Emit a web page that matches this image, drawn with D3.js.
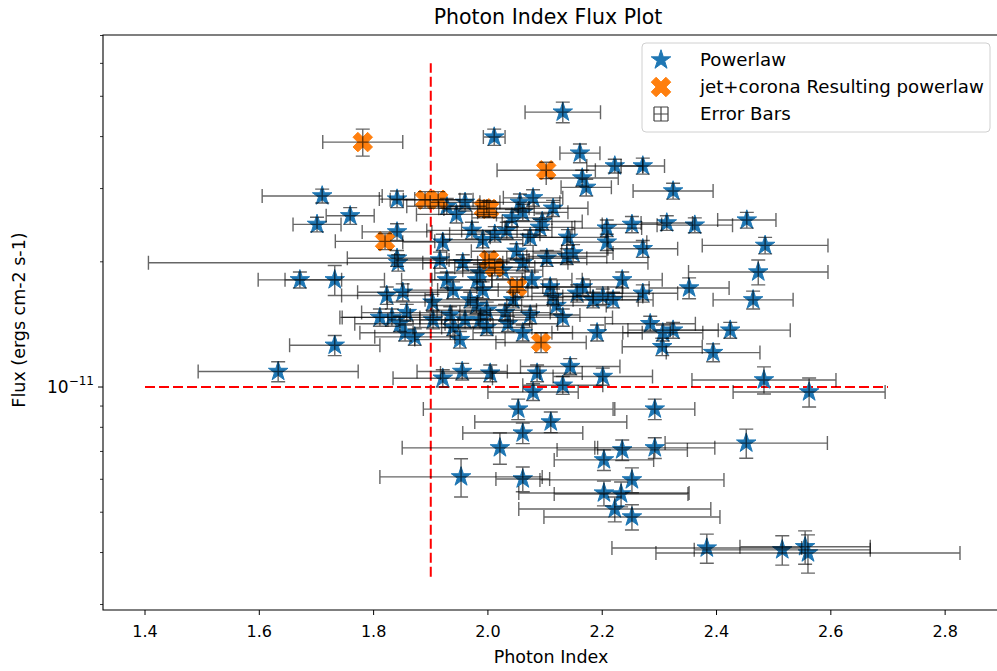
<!DOCTYPE html>
<html><head><meta charset="utf-8">
<script src="https://cdn.jsdelivr.net/npm/d3@7"></script>
<style>
body{margin:0;background:#fff;}
text{font-family:"DejaVu Sans",sans-serif;fill:#000;}
</style>
</head><body>
<svg id="c" width="997" height="671"></svg>
<script>
// Flux values are in units of 1e-11 erg cm^-2 s^-1
const FLUX_UNIT = 1e-11;

// Powerlaw fits (blue stars)
const plIndex = [2.131,2.011,2.161,2.222,2.271,2.165,2.172,2.324,1.710,1.841,1.759,1.701,2.453,2.362,2.313,2.485,2.473,2.271,2.208,1.671,1.732,2.352,2.464,1.841,1.841,1.843,
1.928,1.960,2.056,2.079,2.114,2.061,2.042,2.252,1.921,1.972,1.991,2.033,2.074,2.091,2.140,2.138,2.208,1.916,1.956,1.986,2.026,2.061,2.077,2.103,2.109,2.156,2.166,2.201,2.235,2.271,
1.939,1.969,1.998,2.030,2.074,2.131,2.284,2.306,2.324,1.951,1.998,2.061,2.191,1.939,1.928,1.981,1.823,1.851,1.832,1.858,1.855,1.872,1.960,1.986,2.044,2.114,2.184,2.219,2.149,2.305,2.394,2.424,
1.811,1.846,1.732,1.904,1.934,1.991,
1.633,1.921,1.955,2.004,2.086,2.144,2.201,2.131,2.079,2.483,2.562,2.053,2.292,2.110,2.061,2.021,2.203,2.235,2.292,2.452,1.953,2.061,2.252,2.203,2.233,2.222,2.252,2.383,2.515,2.555,2.560,
2.095,2.012,1.945,2.050,2.120,1.980,2.035,1.903];
const plFlux = [4.58,3.99,3.65,3.40,3.40,3.18,3.02,2.96,2.88,2.83,2.58,2.46,2.52,2.45,2.48,2.19,1.89,2.15,2.41,1.81,1.81,1.73,1.62,2.36,2.04,1.99,
2.72,2.78,2.78,2.85,2.69,2.63,2.55,2.46,2.23,2.38,2.26,2.38,2.29,2.42,2.29,2.06,2.23,2.02,1.99,1.88,1.91,1.99,1.81,2.04,1.74,1.68,1.74,1.65,1.81,1.68,
1.71,1.62,1.53,1.51,1.49,1.47,1.42,1.35,1.37,1.30,1.39,1.35,1.35,1.39,1.81,1.81,1.66,1.69,1.47,1.51,1.35,1.32,1.45,1.45,1.62,1.65,1.62,1.62,2.10,1.25,1.21,1.37,
1.47,1.42,1.26,1.45,1.49,1.71,
1.09,1.05,1.09,1.08,1.08,1.12,1.06,1.01,0.973,1.04,0.973,0.885,0.885,0.824,0.775,0.714,0.668,0.706,0.714,0.733,0.608,0.601,0.598,0.556,0.553,0.509,0.487,0.410,0.406,0.413,0.399,
2.50,2.33,2.60,2.12,1.57,1.57,1.42,1.60];
const plIndexErr = [0.066,0.019,0.035,0.049,0.038,0.063,0.044,0.070,0.105,0.031,0.042,0.042,0.051,0.066,0.045,0.110,0.122,0.061,0.061,0.073,0.087,0.070,0.070,0.061,0.087,0.437,
0.070,0.061,0.070,0.052,0.061,0.079,0.070,0.052,0.070,0.079,0.070,0.079,0.070,0.061,0.070,0.070,0.070,0.079,0.070,0.079,0.070,0.079,0.070,0.070,0.070,0.079,0.070,0.070,0.070,0.061,
0.079,0.079,0.087,0.079,0.087,0.087,0.079,0.070,0.079,0.079,0.079,0.087,0.079,0.070,0.079,0.079,0.079,0.079,0.087,0.079,0.079,0.070,0.079,0.087,0.079,0.070,0.079,0.070,0.070,0.070,0.082,0.105,
0.070,0.079,0.079,0.079,0.070,0.079,
0.140,0.087,0.079,0.087,0.079,0.087,0.087,0.070,0.079,0.126,0.133,0.166,0.070,0.133,0.105,0.171,0.087,0.114,0.105,0.142,0.142,0.047,0.161,0.149,0.117,0.168,0.154,0.166,0.154,0.114,0.266,
0.070,0.079,0.070,0.079,0.087,0.079,0.087,0.079];
const plFluxErr = [0.26,0.18,0.19,0.13,0.15,0.14,0.14,0.13,0.11,0.13,0.12,0.10,0.11,0.10,0.10,0.10,0.13,0.10,0.11,0.08,0.15,0.10,0.08,0.11,0.09,0.09,
0.12,0.13,0.13,0.13,0.12,0.12,0.12,0.11,0.10,0.11,0.10,0.11,0.10,0.11,0.10,0.09,0.10,0.09,0.09,0.09,0.09,0.09,0.08,0.09,0.08,0.08,0.08,0.07,0.08,0.08,
0.08,0.07,0.07,0.07,0.07,0.07,0.06,0.06,0.06,0.06,0.06,0.06,0.06,0.06,0.08,0.08,0.08,0.08,0.07,0.07,0.06,0.06,0.07,0.07,0.07,0.07,0.07,0.07,0.10,0.06,0.06,0.06,
0.07,0.06,0.07,0.07,0.07,0.08,
0.06,0.05,0.05,0.05,0.05,0.05,0.05,0.05,0.045,0.078,0.078,0.05,0.05,0.047,0.044,0.062,0.038,0.04,0.041,0.059,0.064,0.041,0.041,0.038,0.038,0.035,0.034,0.033,0.033,0.038,0.042,
0.11,0.10,0.12,0.09,0.07,0.07,0.06,0.07];

// jet+corona resulting powerlaw (orange X)
const jcIndex = [1.781,1.890,1.913,1.993,2.002,2.102,1.820,2.002,2.012,2.051,2.093];
const jcFlux = [3.88,2.82,2.82,2.69,2.68,3.32,2.24,2.02,1.94,1.74,1.28];
const jcIndexErr = [0.070,0.061,0.061,0.079,0.079,0.086,0.087,0.070,0.070,0.070,0.079];
const jcFluxErr = [0.29,0.13,0.13,0.12,0.12,0.15,0.10,0.09,0.09,0.10,0.07];

// reference lines
const refIndex = 1.9;
const refIndexFluxRange = [3.5e-12, 6e-11];
const refFlux = 1e-11;
const refFluxIndexRange = [1.4, 2.7];

const xTicks = [1.4,1.6,1.8,2.0,2.2,2.4,2.6,2.8];
const xDomain = [1.3265, 2.8995];
const yDomain = [2.91e-12, 7.02e-11];

const legendLabels = ["Powerlaw", "jet+corona Resulting powerlaw", "Error Bars"];
const title = "Photon Index Flux Plot";
const xLabel = "Photon Index";
const yLabel = "Flux (ergs cm-2 s-1)";

const BLUE = "#1f77b4", ORANGE = "#ff7f0e";

const svg = d3.select("#c");
const L = 103, R = 1002, T = 35, B = 610;
const x = d3.scaleLinear().domain(xDomain).range([L, R]);
const y = d3.scaleLog().domain(yDomain).range([B, T]);

svg.append("defs").append("clipPath").attr("id","clip")
  .append("rect").attr("x",L).attr("y",T).attr("width",R-L).attr("height",B-T);

const plot = svg.append("g").attr("clip-path","url(#clip)");

const pl = plIndex.map((v,i)=>({x:v, y:plFlux[i]*FLUX_UNIT, ex:plIndexErr[i], ey:plFluxErr[i]*FLUX_UNIT}));
const jc = jcIndex.map((v,i)=>({x:v, y:jcFlux[i]*FLUX_UNIT, ex:jcIndexErr[i], ey:jcFluxErr[i]*FLUX_UNIT}));

const star = d3.symbol().type(d3.symbolStar).size(118);
// filled X marker (matplotlib 'X')
const xPts = [[0.25,0],[0.5,0.25],[0.25,0.5],[0,0.25],[-0.25,0.5],[-0.5,0.25],[-0.25,0],[-0.5,-0.25],[-0.25,-0.5],[0,-0.25],[0.25,-0.5],[0.5,-0.25]];
function xPath(s){ return "M" + xPts.map(p=>[p[0]*s,p[1]*s].join(",")).join("L") + "Z"; }

// red reference lines
plot.append("line").attr("x1",x(refIndex)).attr("x2",x(refIndex))
  .attr("y1",y(refIndexFluxRange[0])).attr("y2",y(refIndexFluxRange[1]))
  .attr("stroke","#ff0000").attr("stroke-width",2).attr("stroke-dasharray","10,4");
plot.append("line").attr("x1",x(refFluxIndexRange[0])).attr("x2",x(refFluxIndexRange[1]))
  .attr("y1",y(refFlux)).attr("y2",y(refFlux))
  .attr("stroke","#ff0000").attr("stroke-width",2).attr("stroke-dasharray","10,4");

plot.append("g").selectAll("path").data(pl).join("path")
  .attr("d", star).attr("transform", d=>`translate(${x(d.x)},${y(d.y)})`)
  .attr("fill",BLUE).attr("stroke",BLUE).attr("stroke-width",1);

plot.append("g").selectAll("path").data(jc).join("path")
  .attr("d", xPath(19.5)).attr("transform", d=>`translate(${x(d.x)},${y(d.y)})`)
  .attr("fill",ORANGE).attr("stroke",ORANGE).attr("stroke-width",1).attr("stroke-linejoin","round");

// error bars
const cap = 7;
const eg = plot.append("g").attr("stroke","#000").attr("stroke-opacity",0.6).attr("stroke-width",1.4).attr("fill","none");
[...pl, ...jc].forEach(d=>{
  const cx = x(d.x), cy = y(d.y);
  const x0 = x(d.x-d.ex), x1 = x(d.x+d.ex);
  const y0 = y(d.y-d.ey), y1 = y(d.y+d.ey);
  eg.append("path").attr("d",
    `M${x0},${cy}H${x1}M${x0},${cy-cap}V${cy+cap}M${x1},${cy-cap}V${cy+cap}` +
    `M${cx},${y0}V${y1}M${cx-cap},${y0}H${cx+cap}M${cx-cap},${y1}H${cx+cap}`);
});

// axes frame
const ax = svg.append("g").attr("stroke","#000").attr("stroke-width",1.1).attr("fill","none");
ax.append("path").attr("d",`M${R},${T}H${L}V${B}H${R}`);

// x axis ticks
const xg = svg.append("g");
xTicks.forEach(t=>{
  xg.append("line").attr("x1",x(t)).attr("x2",x(t)).attr("y1",B).attr("y2",B+5).attr("stroke","#000").attr("stroke-width",1);
  xg.append("text").attr("x",x(t)).attr("y",B+27).attr("text-anchor","middle").attr("font-size",16).text(t.toFixed(1));
});

// y axis ticks (log)
const yg = svg.append("g");
y.ticks().forEach(t=>{
  const lg = Math.log10(t);
  const major = Math.abs(lg - Math.round(lg)) < 1e-9;
  yg.append("line").attr("x1",L).attr("x2",L-(major?5:3)).attr("y1",y(t)).attr("y2",y(t))
    .attr("stroke","#000").attr("stroke-width",major?1:0.8);
  if (major) {
    const tx = yg.append("text").attr("x",L-9).attr("y",y(t)+6).attr("text-anchor","end").attr("font-size",17);
    tx.append("tspan").text("10");
    tx.append("tspan").attr("dy",-8).attr("font-size",12).text("\u2212" + Math.abs(Math.round(lg)));
  }
});

// labels
svg.append("text").attr("x",548).attr("y",24).attr("text-anchor","middle").attr("font-size",20.5).text(title);
svg.append("text").attr("x",551).attr("y",663).attr("text-anchor","middle").attr("font-size",17.5).text(xLabel);
svg.append("text").attr("transform","translate(25,320) rotate(-90)").attr("text-anchor","middle").attr("font-size",17.5).text(yLabel);

// legend
const lg = svg.append("g");
lg.append("rect").attr("x",642).attr("y",43).attr("width",348).attr("height",89).attr("rx",4)
  .attr("fill","#fff").attr("fill-opacity",0.85).attr("stroke","#d0d0d0").attr("stroke-width",1);
const ly = [60, 87, 114];
lg.append("path").attr("d",star).attr("transform",`translate(661,${ly[0]})`).attr("fill",BLUE).attr("stroke",BLUE);
lg.append("path").attr("d",xPath(19.5)).attr("transform",`translate(661,${ly[1]})`).attr("fill",ORANGE).attr("stroke",ORANGE);
lg.append("path").attr("d",`M654,${ly[2]}H668M654,${ly[2]-7}V${ly[2]+7}M668,${ly[2]-7}V${ly[2]+7}M661,${ly[2]-7}V${ly[2]+7}M654,${ly[2]-7}H668M654,${ly[2]+7}H668`)
  .attr("stroke","#000").attr("stroke-opacity",0.75).attr("stroke-width",1.2).attr("fill","none");
legendLabels.forEach((t,i)=>{
  lg.append("text").attr("x",700).attr("y",ly[i]+6).attr("font-size",18.2).text(t);
});
</script>
</body></html>
